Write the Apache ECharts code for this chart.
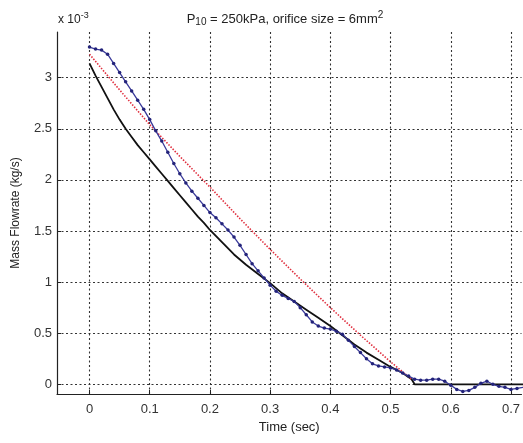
<!DOCTYPE html>
<html>
<head>
<meta charset="utf-8">
<script src="https://cdn.jsdelivr.net/npm/echarts@6/dist/echarts.min.js"></script>
<style>
html,body{margin:0;padding:0;background:#fff;}
#chart{width:523px;height:443px;}
</style>
</head>
<body>
<div id="chart"></div>
<script>
// Data (mass flowrate in units of 1e-3 kg/s)
var timeExp = [0,0.01,0.02,0.03,0.04,0.05,0.06,0.07,0.08,0.09,0.10,0.11,0.12,0.13,0.14,0.15,0.16,0.17,0.18,0.19,0.20,0.21,0.22,0.23,0.24,0.25,0.26,0.27,0.28,0.29,0.30,0.31,0.32,0.33,0.34,0.35,0.36,0.37,0.38,0.39,0.40,0.41,0.42,0.43,0.44,0.45,0.46,0.47,0.48,0.49,0.50,0.51,0.52,0.53,0.54,0.55,0.56,0.57,0.58,0.59,0.60,0.61,0.62,0.63,0.64,0.65,0.66,0.67,0.68,0.69,0.70,0.71,0.72];
var flowExp = [3.30,3.28,3.27,3.23,3.14,3.05,2.96,2.87,2.78,2.69,2.59,2.48,2.38,2.27,2.16,2.06,1.97,1.89,1.82,1.75,1.68,1.63,1.57,1.51,1.44,1.36,1.27,1.18,1.11,1.04,0.97,0.91,0.87,0.84,0.81,0.75,0.68,0.61,0.57,0.55,0.54,0.52,0.49,0.43,0.37,0.31,0.25,0.20,0.18,0.17,0.16,0.14,0.11,0.08,0.05,0.04,0.04,0.05,0.05,0.03,-0.01,-0.05,-0.07,-0.06,-0.03,0.01,0.03,0.00,-0.02,-0.03,-0.05,-0.04,-0.03];

var timeModel = [0,0.01,0.02,0.03,0.04,0.05,0.06,0.07,0.08,0.09,0.10,0.11,0.12,0.13,0.14,0.15,0.16,0.17,0.18,0.19,0.20,0.22,0.24,0.26,0.28,0.30,0.32,0.34,0.36,0.38,0.40,0.42,0.44,0.46,0.48,0.50,0.52,0.535,0.54,0.72];
var flowModel = [3.14,3.02,2.91,2.80,2.69,2.59,2.50,2.42,2.34,2.27,2.20,2.13,2.06,1.99,1.92,1.85,1.78,1.71,1.64,1.58,1.51,1.39,1.27,1.17,1.08,0.99,0.89,0.81,0.73,0.65,0.57,0.48,0.39,0.31,0.24,0.17,0.11,0.05,0.00,0.00];

var timeLinear = [0,0.05,0.10,0.15,0.20,0.25,0.30,0.35,0.40,0.45,0.50,0.535];
var flowLinear = [3.23,2.88,2.54,2.23,1.93,1.62,1.32,1.03,0.75,0.48,0.22,0.05];

var xTicks = [0,0.1,0.2,0.3,0.4,0.5,0.6,0.7];
var yTicks = [0,0.5,1,1.5,2,2.5,3];

function pairs(xs, ys){ return xs.map(function(x,i){ return [x, ys[i]]; }); }

var FONT = '"Liberation Sans", Arial, Helvetica, sans-serif';
var chart = echarts.init(document.getElementById('chart'), null, {renderer:'canvas'});
var gridLine = {show:true, lineStyle:{color:'#333', width:1.1, type:[2,2.5]}};
chart.setOption({
  backgroundColor:'#ffffff',
  animation:false,
  grid:{left:57, top:32, bottom:49, right:0, containLabel:false},
  xAxis:{
    type:'value', min:-0.054, max:0.7175,
    name:'Time (sec)', nameLocation:'middle', nameGap:24,
    nameTextStyle:{color:'#222', fontSize:13, fontFamily:FONT},
    axisLine:{show:true, onZero:false, lineStyle:{color:'#222', width:1.2}},
    axisTick:{show:true, inside:true, length:4, customValues:xTicks, lineStyle:{color:'#222'}},
    axisLabel:{show:true, customValues:xTicks, margin:9, color:'#333', fontSize:13, fontFamily:FONT,
      formatter:function(v){ return String(Math.round(v*10)/10); }},
    splitLine:gridLine
  },
  yAxis:{
    type:'value', min:-0.095, max:3.447,
    name:'Mass Flowrate (kg/s)', nameLocation:'middle', nameGap:35,
    nameTextStyle:{color:'#222', fontSize:12, fontFamily:FONT},
    axisLine:{show:true, onZero:false, lineStyle:{color:'#222', width:1.2}},
    axisTick:{show:true, inside:true, length:4, customValues:yTicks, lineStyle:{color:'#222'}},
    axisLabel:{show:true, customValues:yTicks, margin:5, color:'#333', fontSize:13, fontFamily:FONT,
      formatter:function(v){ return String(Math.round(v*10)/10); }},
    splitLine:gridLine
  },
  graphic:[
    {type:'text', x:285, y:19, style:{
      text:'P{sub|10} = 250kPa, orifice size = 6mm{sup|2}',
      align:'center', verticalAlign:'middle', fill:'#222', fontSize:13, fontFamily:FONT,
      rich:{sub:{fontSize:10, fontFamily:FONT, fill:'#222', verticalAlign:'bottom', padding:[6,0,0,0]},
            sup:{fontSize:10, fontFamily:FONT, fill:'#222', verticalAlign:'top', padding:[0,0,7,0]}}
    }},
    {type:'text', x:58, y:20, style:{
      text:'x 10{sup|-3}', align:'left', verticalAlign:'middle', fill:'#222', fontSize:12, fontFamily:FONT,
      rich:{sup:{fontSize:9, fontFamily:FONT, fill:'#222', verticalAlign:'top', padding:[0,0,8,0]}}
    }}
  ],
  series:[
    {type:'line', name:'model', data:pairs(timeModel, flowModel), showSymbol:false, symbol:'none',
      lineStyle:{color:'#111', width:1.8}, z:3},
    {type:'line', name:'linear', data:pairs(timeLinear, flowLinear), showSymbol:false, symbol:'none',
      lineStyle:{color:'#e0303f', width:1.6, type:[1.5,1.5]}, z:4},
    {type:'line', name:'experiment', data:pairs(timeExp, flowExp), symbol:'circle', symbolSize:3.5,
      itemStyle:{color:'#23237a'}, lineStyle:{color:'#3a3a9a', width:1.3}, z:5}
  ]
});
</script>
</body>
</html>
